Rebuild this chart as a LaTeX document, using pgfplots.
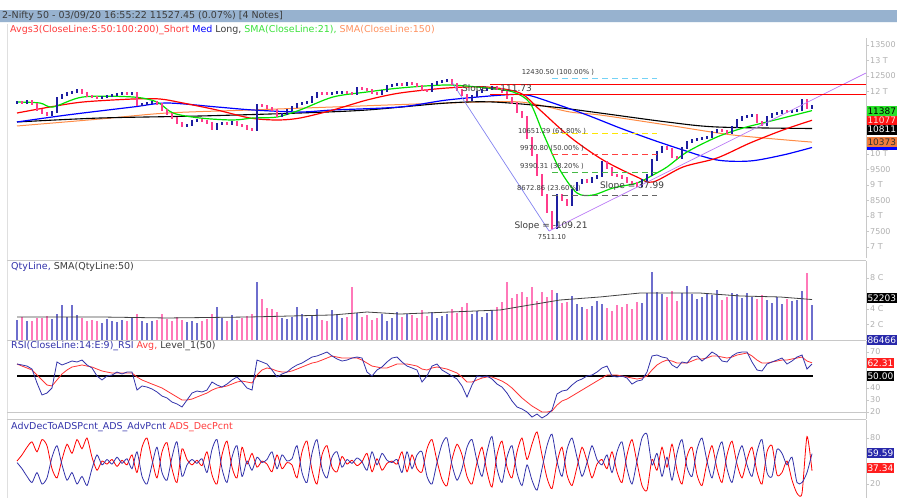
\documentclass[border=0pt]{standalone}
\usepackage{pgfplots}
\pgfplotsset{compat=1.18}
\usepackage{pgfplotstable}
\usepackage{fontspec}
\setmainfont{DejaVu Sans}
\definecolor{barbg}{RGB}{151,178,207}
\definecolor{cup}{RGB}{30,30,160}
\definecolor{cdn}{RGB}{255,60,140}
\definecolor{vup}{RGB}{110,110,205}
\definecolor{vdn}{RGB}{255,120,185}
\definecolor{maR}{RGB}{255,0,0}
\definecolor{maB}{RGB}{0,0,255}
\definecolor{maG}{RGB}{0,225,0}
\definecolor{maO}{RGB}{255,140,70}
\definecolor{tickc}{RGB}{175,175,175}
\definecolor{framec}{RGB}{200,200,200}
\definecolor{txt}{RGB}{60,60,60}
\definecolor{navy}{RGB}{50,50,170}
\definecolor{trendA}{RGB}{130,130,240}
\definecolor{trendB}{RGB}{185,120,245}
\definecolor{lgR}{RGB}{255,60,60}
\definecolor{lgG}{RGB}{60,225,60}
\definecolor{lgO}{RGB}{255,145,95}
\newcommand{\fA}{\fontsize{9.5}{10.5}\selectfont}
\newcommand{\fT}{\fontsize{8}{9}\selectfont}
\newcommand{\fF}{\fontsize{6.8}{7.5}\selectfont}
\newcommand{\fS}{\fontsize{9}{10}\selectfont}
\newcommand{\fL}{\fontsize{9}{10}\selectfont}

\pgfplotstableread{
x o c v
17 11640 11665 2.6
27 11640 11697 2.4
52 11246 11343 2.7
57 11343 11793 3.4
62 11793 11890 4.5
67 11890 11954 3.0
72 11954 11987 4.5
77 11987 12051 3.2
102 11793 11826 2.2
107 11826 11858 2.7
112 11858 11890 2.5
117 11890 11922 2.3
122 11922 11954 2.6
132 11922 11954 2.8
142 11568 11600 2.4
147 11600 11632 2.2
152 11632 11665 2.4
187 10892 10924 2.3
192 10924 11053 2.4
197 11053 11085 2.2
217 10795 10956 4.3
222 10956 10988 2.8
232 10956 11021 3.2
257 10763 11568 7.5
282 11214 11278 2.9
287 11278 11407 2.7
292 11407 11504 3.0
297 11504 11600 4.2
302 11600 11632 3.3
307 11632 11665 2.8
312 11665 11826 3.1
317 11826 11954 4.0
332 11922 11954 3.9
337 11954 11960 3.3
342 11960 11987 2.8
357 11920 12115 3.5
382 11922 12019 3.4
387 12019 12180 2.5
392 12180 12212 2.8
397 12212 12244 3.6
407 12212 12276 3.4
432 12019 12244 3.6
437 12244 12309 2.9
442 12309 12341 3.1
447 12341 12373 3.4
472 11729 11858 3.3
477 11858 11987 3.8
482 11987 12051 3.0
487 12051 12083 3.5
492 12083 12148 3.9
557 7607 8670 6.0
572 8348 8831 5.7
577 8831 9056 4.6
582 9056 9153 4.3
592 9089 9217 4.4
597 9217 9282 5.0
602 9282 9733 4.7
642 8960 9153 4.8
647 9153 9314 6.1
652 9314 9797 8.8
657 9797 10055 6.2
662 10055 10216 5.9
682 9861 10183 6.0
687 10183 10377 7.0
692 10377 10441 5.9
697 10441 10473 5.3
702 10473 10505 5.6
707 10505 10538 6.1
712 10538 10699 5.8
717 10699 10763 6.4
732 10666 10860 6.0
737 10860 11085 5.9
742 11085 11182 5.4
747 11182 11214 6.1
752 11214 11246 5.5
767 10924 11182 5.1
772 11182 11278 4.8
777 11278 11310 5.5
782 11310 11375 4.6
792 11343 11375 5.0
797 11375 11407 5.2
802 11407 11720 6.3
812 11480 11527 4.5
}\upT

\pgfplotstableread{
x o c v
22 11665 11640 3.0
32 11697 11600 2.5
37 11600 11407 2.8
42 11407 11310 2.9
47 11310 11246 3.1
82 12051 11954 2.8
87 11954 11858 2.4
92 11858 11826 2.6
97 11826 11793 2.5
127 11954 11922 2.4
137 11954 11568 3.3
157 11665 11600 2.6
162 11600 11407 3.4
167 11407 11278 2.7
172 11278 11149 2.5
177 11149 10988 3.0
182 10988 10892 2.6
202 11085 11053 2.5
207 11053 10988 2.7
212 10988 10795 3.4
227 10988 10956 2.5
237 11021 10924 2.6
242 10924 10892 2.8
247 10892 10795 3.1
252 10795 10763 3.3
262 11568 11536 5.3
267 11536 11471 4.1
272 11471 11407 4.0
277 11407 11214 3.6
322 11954 11940 2.6
327 11940 11922 2.5
347 11987 11954 3.0
352 11954 11920 6.8
362 12115 12083 3.0
367 12083 12051 3.2
372 12051 11954 2.6
377 11954 11922 2.9
402 12244 12212 3.0
412 12276 12244 3.2
417 12244 12180 2.9
422 12180 12051 3.9
427 12051 12019 3.1
452 12373 12244 4.0
457 12244 12051 3.5
462 12051 11890 4.2
467 11890 11729 4.8
497 12148 12083 4.3
502 12083 11987 4.9
507 11987 11793 7.5
512 11793 11632 5.4
517 11632 11343 5.9
522 11343 11182 6.2
527 11182 10505 5.5
532 10505 9958 6.8
537 9958 9314 5.0
542 9314 8670 6.2
547 8670 8123 5.6
552 8123 7607 6.5
562 8670 8509 4.8
567 8509 8348 4.9
587 9153 9089 4.0
607 9733 9539 4.1
612 9539 9314 3.8
617 9314 9282 4.5
622 9282 9217 4.2
627 9217 9089 4.6
632 9089 9056 4.0
637 9056 8960 4.9
667 10216 10151 5.5
672 10151 9894 6.3
677 9894 9861 5.0
722 10763 10731 5.2
727 10731 10666 5.6
757 11246 11021 5.3
762 11021 10924 5.8
787 11375 11343 5.3
807 11720 11480 8.6
}\dnT

\pgfplotstableread{
x rsi avg
17 60 60
22 59.2 58.3
27 58.3 56.7
32 55.8 55
37 44.2 50.8
42 34.2 46.7
47 35.8 42.5
52 40 41.7
57 61.7 46.7
62 59.2 51.7
67 60.8 55
72 62.5 57.5
77 61.7 58.3
82 63.3 59.2
87 59.2 58.3
92 56.7 57.5
97 50 55.8
102 46.7 54.2
107 50 53.3
112 50.8 52.5
117 53.3 52.5
122 51.7 52.5
127 53.3 52.5
132 53.3 52.5
137 38.3 49.2
142 41.7 46.7
147 40.8 45
152 39.2 43.3
157 36.7 41.7
162 33.3 40
167 31.7 37.5
172 28.3 35
177 26.7 32.5
182 24.2 30
187 30 30
192 35.8 30.8
197 37.5 32.5
202 36.7 34.2
207 38.3 35.8
212 45 38.3
217 42.5 40
222 40.8 40.8
227 43.3 41.7
232 46.7 43.3
237 49.2 45
242 45 45.8
247 40 45
252 38.3 44.2
257 63.3 50.8
262 61.7 55
267 60 56.7
272 55 55.8
277 49.2 54.2
282 51.7 53.3
287 53.3 53.3
292 56.7 54.2
297 59.2 55.8
302 60.8 57.5
307 63.3 59.2
312 65.8 60.8
317 66.7 61.7
322 68.3 63.3
327 70 65
332 66.7 66.7
337 64.2 65.8
342 62.5 65
347 63.3 65
352 65 65
357 65.8 65
362 65 63.3
367 53.3 60.8
372 50 58.3
377 55 57.5
382 57.5 56.7
387 61.7 56.7
392 65 58.3
397 65.8 60
402 61.7 60
407 58.3 60
412 56.7 59.2
417 55 58.3
422 45 55.8
427 50 55
432 58.3 56.7
437 60 57.5
442 55 56.7
447 52.5 55.8
452 50 54.2
457 47.5 52.5
462 41.7 49.2
467 32.5 45
472 42.5 45
477 50 46.7
482 49.2 48.3
487 50 49.2
492 47.5 49.2
497 43.3 47.5
502 40.8 45.8
507 35.8 43.3
512 29.2 40
517 24.2 35.8
522 22.5 31.7
527 20 28.3
532 15.8 25
537 18.3 22.5
542 15 20
547 17.5 20
552 21.7 20.8
557 35 25.8
562 37.5 29.2
567 38.3 30.8
572 42.5 33.3
577 45.8 35.8
582 47.5 38.3
587 50 40.8
592 50.8 43.3
597 53.3 45.8
602 56.7 48.3
607 58.3 50.8
612 50 50.8
617 49.2 50.8
622 50 50
627 48.3 49.2
632 43.3 48.3
637 45.8 47.5
642 46.7 48.3
647 53.3 50
652 66.7 55
657 67.5 59.2
662 65.8 61.7
667 65 63.3
672 59.2 62.5
677 56.7 60.8
682 61.7 60.8
687 60.8 60.8
692 65.8 62.5
697 66.7 64.2
702 62.5 64.2
707 65.8 65
712 70 66.7
717 67.5 66.7
722 62.5 65.8
727 61.7 65
732 66.7 65.8
737 69.2 67.5
742 70 68.3
747 70 69.2
752 61.7 66.7
757 55 63.3
762 54.2 60.8
767 60 60.8
772 61.7 61.7
777 63.3 62.5
782 65 63.3
787 60 63.3
792 62.5 64.2
797 65.8 65
802 67.5 65.8
807 55.8 62.5
812 60 61
}\rsiT

\pgfplotstableread{
x adv dec
17 48 50
22 40 58
27 30 68
32 22 75
37 35 62
42 20 78
47 28 70
52 55 40
57 70 28
62 45 52
67 25 72
72 35 60
77 20 78
82 30 66
87 18 80
92 40 55
97 58 38
102 45 50
107 52 46
112 46 52
117 55 43
122 47 51
127 53 45
132 40 58
137 62 35
142 30 68
147 20 80
152 45 52
157 68 28
162 35 62
167 25 74
172 55 40
177 75 22
182 30 66
187 45 52
192 52 45
197 47 51
202 53 44
207 35 62
212 65 32
217 78 20
222 40 58
227 22 76
232 55 42
237 70 28
242 30 68
247 50 46
252 38 60
257 55 42
262 48 50
267 52 46
272 62 36
277 40 58
282 58 40
287 50 48
292 53 45
297 70 28
302 35 62
307 22 76
312 60 38
317 78 20
322 40 58
327 28 70
332 55 42
337 62 36
342 42 56
347 52 46
352 47 51
357 54 44
362 49 49
367 38 60
372 62 36
377 45 53
382 60 38
387 51 47
392 48 50
397 52 46
402 35 62
407 62 36
412 40 58
417 58 40
422 62 36
427 30 66
432 20 78
437 48 50
442 72 26
447 80 18
452 45 52
457 25 72
462 40 58
467 68 30
472 78 20
477 50 48
482 30 68
487 62 36
492 82 16
497 40 58
502 22 76
507 55 42
512 70 28
517 35 62
522 18 80
527 45 52
532 25 72
537 12 88
542 40 58
547 70 28
552 85 14
557 50 48
562 30 68
567 65 32
572 80 18
577 55 42
582 30 68
587 48 50
592 70 28
597 52 46
602 45 52
607 58 40
612 35 62
617 62 36
622 75 22
627 40 58
632 20 78
637 50 48
642 80 18
647 85 12
652 45 52
657 60 38
662 30 68
667 55 42
672 25 72
677 60 38
682 78 20
687 42 56
692 30 68
697 65 32
702 80 18
707 50 48
712 28 70
717 58 40
722 75 22
727 40 58
732 22 76
737 52 46
742 70 28
747 45 52
752 30 68
757 62 36
762 78 20
767 35 62
772 30 70
777 65 32
782 60 35
787 45 50
792 55 25
797 22 8
802 22 8
807 35 82
812 59.59 37.34
}\adT

\pgfplotsset{panel/.style={scale only axis, width=859pt, xmin=7, xmax=866,
  axis x line=none, axis y line*=right,
  y axis line style={-, draw=framec},
  ytick style={draw=framec}, tick align=outside, major tick length=3pt,
  yticklabel style={font=\fT, text=tickc, inner sep=1pt},
  scaled y ticks=false,
  clip=true}}

\begin{document}
\begin{tikzpicture}
\useasboundingbox (0pt,0pt) rectangle (897pt,-498pt);
% header bar
\fill[barbg] (0pt,-10pt) rectangle (897pt,-22pt);
\draw[white!85!barbg, line width=0.6pt] (0pt,-22.3pt) -- (897pt,-22.3pt);
\node[anchor=west, font=\fA, text=txt, inner sep=0pt] at (2pt,-16pt) {2-Nifty 50 - 03/09/20 16:55:22 11527.45 (0.07\%) [4 Notes]};
\node[anchor=west, font=\fA, inner sep=0pt] at (10pt,-30pt) {\textcolor{lgR}{Avgs3(CloseLine:S:50:100:200)\_Short} \textcolor{maB}{Med} \textcolor{txt}{Long,} \textcolor{lgG}{SMA(CloseLine:21),} \textcolor{lgO}{SMA(CloseLine:150)}};
% frame lines
\draw[gray!25] (7pt,-24pt) -- (7pt,-498pt);
\draw[framec, line width=0.8pt] (7pt,-260pt) -- (866pt,-260pt);
\draw[framec, line width=0.8pt] (7pt,-340pt) -- (866pt,-340pt);
\draw[framec, line width=0.8pt] (7pt,-412pt) -- (866pt,-412pt);
\draw[framec, line width=0.8pt] (7pt,-419pt) -- (866pt,-419pt);

% ---------- price panel ----------
\begin{axis}[panel, at={(7pt,-258pt)}, anchor=south west, height=220pt,
  ymin=6641.4, ymax=13725.4,
  ytick={7000,7500,8000,8500,9000,9500,10000,12000,12500,13000,13500},
  yticklabels={7 T,7500,8 T,8500,9 T,9500,10 T,12 T,12500,13 T,13500}]
\addplot[maO, line width=1pt, smooth, tension=0.5] coordinates {(17,10892) (100,11117) (167,11310) (250,11407) (333,11504) (447,11632) (520,11665) (570,11343) (600,11246) (667,10924) (733,10602) (812,10373)};
\addplot[black, line width=1.1pt, smooth, tension=0.5] coordinates {(17,11021) (100,11149) (200,11214) (300,11310) (367,11407) (447,11632) (493,11665) (553,11504) (600,11310) (667,11021) (717,10860) (812,10811)};
\addplot[maB, line width=1.2pt, smooth, tension=0.5] coordinates {(17,11021) (67,11246) (133,11504) (167,11632) (217,11504) (253,11407) (300,11343) (333,11407) (400,11504) (447,11729) (503,11890) (527,11890) (553,11632) (587,11246) (620,10827) (653,10441) (683,10119) (717,9797) (750,9765) (783,9958) (812,10200)};
\addplot[maR, line width=1.2pt, smooth, tension=0.5] coordinates {(17,11310) (50,11504) (83,11665) (133,11761) (160,11761) (183,11632) (217,11407) (250,11149) (277,11085) (300,11149) (333,11407) (367,11729) (400,11954) (447,12115) (487,12148) (520,11954) (540,11407) (570,10538) (603,9797) (637,9250) (653,9089) (683,9572) (717,9861) (750,10344) (783,10763) (812,11077)};
\addplot[maG, line width=1.2pt, smooth, tension=0.5] coordinates {(17,11665) (40,11632) (53,11504) (83,11826) (133,11826) (157,11665) (173,11310) (200,11149) (233,11085) (253,11149) (277,11182) (300,11407) (333,11826) (367,11987) (400,12115) (447,12212) (487,12115) (513,11987) (530,11632) (543,10666) (560,9475) (577,8734) (593,8670) (613,8895) (637,9056) (653,9314) (667,9572) (687,10055) (717,10538) (743,10827) (767,11021) (787,11182) (812,11387)};
% candles
\addplot[only marks, mark=*, mark size=0pt, mark options={draw=none, fill=none}, forget plot,
  error bars/.cd, y dir=plus, y explicit, error mark=none,
  error bar style={line width=2.8pt, line cap=rect, draw=cup}]
  table[x=x, y=o, y error plus expr={\thisrow{c}-\thisrow{o}}] {\upT};
\addplot[only marks, mark=*, mark size=0pt, mark options={draw=none, fill=none}, forget plot,
  error bars/.cd, y dir=plus, y explicit, error mark=none,
  error bar style={line width=2.8pt, line cap=rect, draw=cdn}]
  table[x=x, y=c, y error plus expr={\thisrow{o}-\thisrow{c}}] {\dnT};
% trend lines
\addplot[trendA, line width=0.7pt] coordinates {(452,12300) (549,7511)};
\addplot[trendB, line width=0.7pt] coordinates {(549,7511) (866,12598)};
\addplot[red, line width=1pt] coordinates {(490,12244) (866,12244)};
\addplot[red, line width=1pt] coordinates {(490,11922) (866,11922)};
% fibonacci levels
\addplot[cyan!55, line width=0.8pt, dash pattern=on 6pt off 4pt] coordinates {(552,12430.5) (657,12430.5)};
\addplot[yellow!90!orange, line width=0.8pt, dash pattern=on 6pt off 4pt] coordinates {(552,10651.29) (657,10651.29)};
\addplot[red!75, line width=0.8pt, dash pattern=on 6pt off 4pt] coordinates {(552,9970.8) (657,9970.8)};
\addplot[green!45!gray, line width=0.8pt, dash pattern=on 6pt off 4pt] coordinates {(552,9390.31) (657,9390.31)};
\addplot[gray!80!black, line width=0.8pt, dash pattern=on 6pt off 4pt] coordinates {(552,8672.86) (657,8672.86)};
\node[font=\fF, text=txt] at (axis cs:558,12631) {12430.50 (100.00\% )};
\node[font=\fF, text=txt] at (axis cs:552,10731) {10651.29 (61.80\% )};
\node[font=\fF, text=txt] at (axis cs:552,10183) {9970.80 (50.00\% )};
\node[font=\fF, text=txt] at (axis cs:552,9604) {9390.31 (38.20\% )};
\node[font=\fF, text=txt] at (axis cs:549,8895) {8672.86 (23.60\% )};
\node[font=\fS, text=txt] at (axis cs:551,7672) {Slope = -109.21};
\node[font=\fF, text=txt] at (axis cs:552,7318) {7511.10};
\node[font=\fS, text=txt] at (axis cs:632,8960) {Slope = 37.99};
\node[font=\fS, text=txt] at (axis cs:497,12083) {Slope = 111.73};
\end{axis}

% ---------- volume panel ----------
\begin{axis}[panel, at={(7pt,-340pt)}, anchor=south west, height=79pt,
  ymin=0, ymax=10.19, ytick={2,4,8}, yticklabels={2 C,4 C,8 C}]
\addplot[ycomb, mark=none, line width=1.8pt, draw=vup] table[x=x, y=v] {\upT};
\addplot[ycomb, mark=none, line width=1.8pt, draw=vdn] table[x=x, y=v] {\dnT};
\addplot[black!75, line width=0.8pt] coordinates {(17,2.97) (100,2.97) (167,2.84) (250,2.97) (333,3.23) (367,3.61) (400,3.35) (450,3.61) (500,3.87) (530,4.52) (560,5.16) (600,5.55) (640,6.06) (700,6.06) (740,5.68) (780,5.55) (812,5.22)};
\end{axis}

% ---------- RSI panel ----------
\begin{axis}[panel, at={(7pt,-419pt)}, anchor=south west, height=78pt,
  ymin=14.17, ymax=79.17, ytick={20,30,40,70}, yticklabels={20,30,40,70}]
\addplot[black, line width=1.6pt] coordinates {(17,50) (813,50)};
\addplot[red!80, line width=0.8pt] table[x=x, y=avg] {\rsiT};
\addplot[navy, line width=0.8pt] table[x=x, y=rsi] {\rsiT};
\end{axis}

% ---------- Adv/Dec panel ----------
\begin{axis}[panel, at={(7pt,-498pt)}, anchor=south west, height=78pt,
  ymin=1.8, ymax=103.5, ytick={20,80}, yticklabels={20,80}]
\addplot[red, line width=0.8pt, smooth, tension=0.4] table[x=x, y=dec] {\adT};
\addplot[navy, line width=0.8pt, smooth, tension=0.4] table[x=x, y=adv] {\adT};
\end{axis}

% panel titles
\node[anchor=west, font=\fA, inner sep=0pt] at (11pt,-267pt) {\textcolor{navy}{QtyLine,} \textcolor{txt}{SMA(QtyLine:50)}};
\node[anchor=west, font=\fA, inner sep=0pt] at (11pt,-346pt) {\textcolor{navy}{RSI(CloseLine:14:E:9)\_RSI} \textcolor{lgR}{Avg,} \textcolor{txt}{Level\_1(50)}};
\node[anchor=west, font=\fA, inner sep=0pt] at (11pt,-427pt) {\textcolor{navy}{AdvDecToADSPcnt\_ADS\_AdvPcnt} \textcolor{lgR}{ADS\_DecPcnt}};

% right value labels
\tikzset{vl/.style={anchor=west, font=\fL, inner sep=0.8pt, minimum height=10pt}}
\fill[maB] (866.5pt,-147pt) rectangle (897pt,-149.5pt);
\node[vl, fill={rgb,255:red,40;green,225;blue,40}, text=black] at (866.5pt,-111pt) {11387};
\node[vl, fill={rgb,255:red,255;green,20;blue,20}, text=white!85!red] at (866.5pt,-120.5pt) {11077};
\node[vl, fill=black, text=white] at (866.5pt,-129.5pt) {10811};
\node[vl, fill={rgb,255:red,240;green,125;blue,60}, text=black!80] at (866.5pt,-142pt) {10373};
\node[vl, fill=black, text=white] at (866.5pt,-298pt) {52203};
\node[vl, fill={rgb,255:red,40;green,40;blue,170}, text=white] at (866.5pt,-340pt) {86466};
\node[vl, fill={rgb,255:red,255;green,30;blue,30}, text=white] at (866.5pt,-363pt) {62.31};
\node[vl, fill=black, text=white] at (866.5pt,-376pt) {50.00};
\node[vl, fill={rgb,255:red,40;green,40;blue,170}, text=white] at (866.5pt,-453pt) {59.59};
\node[vl, fill={rgb,255:red,255;green,30;blue,30}, text=white] at (866.5pt,-468pt) {37.34};
\end{tikzpicture}
\end{document}
